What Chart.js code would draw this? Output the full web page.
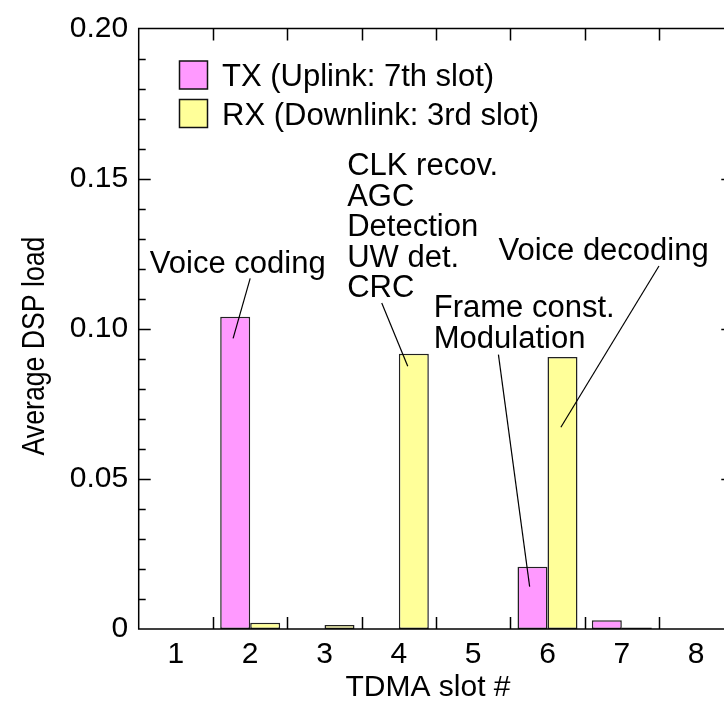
<!DOCTYPE html>
<html lang="en">
<head>
    <meta charset="UTF-8">
    <title>Average DSP load per TDMA slot</title>
    <script src="https://cdn.jsdelivr.net/npm/chart.js"></script>
    <style>
        html, body {
            margin: 0;
            padding: 0;
            background: #fff;
            overflow: hidden;
        }
        .wrap {
            width: 760px;
            height: 701px;
        }
    </style>
</head>
<body>
    <div class="wrap">
        <canvas id="dspChart" width="760" height="701"></canvas>
    </div>

    <script>
        // slot numbers on the x axis
        const slots = ['1', '2', '3', '4', '5', '6', '7', '8'];
        // average DSP load per slot
        const txLoad = [0, 0.104, 0, 0, 0, 0.0207, 0.0029, 0];
        const rxLoad = [0, 0.0021, 0.0013, 0.0917, 0, 0.0906, 0.0005, 0];
        const seriesNames = ['TX (Uplink: 7th slot)', 'RX (Downlink: 3rd slot)'];
        const yTicks = [0, 0.05, 0.10, 0.15, 0.20];

        // callouts: text lines, text anchor [slot, value], leader line [slot, value] -> [slot, value]
        const callouts = [
            { lines: ['Voice coding'], at: [-0.35, 0.1185], from: [1.0, 0.1168], to: [0.77, 0.0968] },
            { lines: ['CLK recov.', 'AGC', 'Detection', 'UW det.', 'CRC'], at: [2.305, 0.1512], from: [2.77, 0.1086], to: [3.12, 0.0875] },
            { lines: ['Frame const.', 'Modulation'], at: [3.47, 0.1039], from: [4.34, 0.0914], to: [4.76, 0.0141] },
            { lines: ['Voice decoding'], at: [4.34, 0.1228], from: [6.5, 0.1209], to: [5.18, 0.0672] }
        ];

        const FONT = '"Liberation Sans", Arial, Helvetica, sans-serif';
        const TX_COLOR = '#ff99ff';
        const RX_COLOR = '#ffff99';

        // slot -> pixel (fractional slots allowed)
        function slotX(chart, s) {
            const x = chart.scales.x;
            const w = (x.right - x.left) / slots.length;
            return x.getPixelForValue(0) + s * w;
        }

        // frame, inward ticks, legend and axis titles
        const framePlugin = {
            id: 'frame',
            afterDatasetsDraw(chart) {
                const { ctx, chartArea: a, scales } = chart;
                const y = scales.y;
                ctx.save();
                ctx.strokeStyle = '#000';
                ctx.lineWidth = 1.5;
                ctx.strokeRect(a.left, a.top, a.right - a.left, a.bottom - a.top);

                ctx.beginPath();
                for (let i = 1; i < 20; i++) {
                    const v = i / 100;
                    const py = Math.round(y.getPixelForValue(v)) + 0.5;
                    const len = i % 5 === 0 ? 12 : 7;
                    ctx.moveTo(a.left, py); ctx.lineTo(a.left + len, py);
                    ctx.moveTo(a.right, py); ctx.lineTo(a.right - len, py);
                }
                const w = (a.right - a.left) / slots.length;
                for (let i = 1; i < slots.length; i++) {
                    const px = Math.round(a.left + i * w) + 0.5;
                    ctx.moveTo(px, a.bottom); ctx.lineTo(px, a.bottom - 12);
                    ctx.moveTo(px, a.top); ctx.lineTo(px, a.top + 12);
                }
                ctx.stroke();
                ctx.restore();
            },
            afterDraw(chart) {
                const { ctx, chartArea: a } = chart;
                ctx.save();
                ctx.fillStyle = '#000';
                ctx.font = '31px ' + FONT;

                // legend
                const colors = [TX_COLOR, RX_COLOR];
                seriesNames.forEach((name, i) => {
                    const top = 61 + i * 38.5;
                    ctx.fillStyle = colors[i];
                    ctx.fillRect(179.5, top, 28, 28);
                    ctx.strokeStyle = '#111';
                    ctx.lineWidth = 1.5;
                    ctx.strokeRect(179.5, top, 28, 28);
                    ctx.fillStyle = '#000';
                    ctx.textAlign = 'left';
                    ctx.textBaseline = 'alphabetic';
                    ctx.fillText(name, 222, top + 25);
                });

                // axis titles
                ctx.textAlign = 'center';
                ctx.textBaseline = 'middle';
                ctx.font = '30px ' + FONT;
                ctx.fillText('TDMA slot #', (a.left + a.right) / 2 - 8, 688);
                ctx.translate(35, 346);
                ctx.rotate(-Math.PI / 2);
                ctx.scale(0.86, 1);
                ctx.font = '31px ' + FONT;
                ctx.fillText('Average DSP load', 0, 0);
                ctx.restore();

                // callouts
                const y = chart.scales.y;
                ctx.save();
                ctx.font = '31px ' + FONT;
                ctx.fillStyle = '#000';
                ctx.strokeStyle = '#000';
                ctx.lineWidth = 1.2;
                ctx.textAlign = 'left';
                ctx.textBaseline = 'alphabetic';
                callouts.forEach(c => {
                    const tx = slotX(chart, c.at[0]);
                    const ty = y.getPixelForValue(c.at[1]);
                    c.lines.forEach((line, i) => ctx.fillText(line, tx, ty + i * 30.5));
                    ctx.beginPath();
                    ctx.moveTo(slotX(chart, c.from[0]), y.getPixelForValue(c.from[1]));
                    ctx.lineTo(slotX(chart, c.to[0]), y.getPixelForValue(c.to[1]));
                    ctx.stroke();
                });
                ctx.restore();
            }
        };

        const ctx = document.getElementById('dspChart').getContext('2d');
        const dspChart = new Chart(ctx, {
            type: 'bar',
            data: {
                labels: slots,
                datasets: [
                    {
                        label: seriesNames[0],
                        data: txLoad,
                        backgroundColor: TX_COLOR,
                        borderColor: '#222',
                        borderWidth: 1.5,
                        borderSkipped: false
                    },
                    {
                        label: seriesNames[1],
                        data: rxLoad,
                        backgroundColor: RX_COLOR,
                        borderColor: '#222',
                        borderWidth: 1.5,
                        borderSkipped: false
                    }
                ]
            },
            options: {
                responsive: false,
                animation: false,
                devicePixelRatio: 1,
                layout: { padding: { top: 28, right: 26.7, left: 0, bottom: 0 } },
                datasets: {
                    bar: { categoryPercentage: 0.807, barPercentage: 1.0 }
                },
                plugins: {
                    legend: { display: false },
                    tooltip: { enabled: false }
                },
                scales: {
                    x: {
                        grid: { display: false, drawTicks: false },
                        border: { display: false },
                        ticks: {
                            color: '#000',
                            padding: 8,
                            font: { family: FONT, size: 30 }
                        },
                        afterFit(scale) { scale.height = 72; }
                    },
                    y: {
                        min: 0,
                        max: 0.2,
                        grid: { display: false, drawTicks: false },
                        border: { display: false },
                        afterBuildTicks(scale) {
                            scale.ticks = yTicks.map(v => ({ value: v }));
                        },
                        ticks: {
                            color: '#000',
                            padding: 10.5,
                            font: { family: FONT, size: 30 },
                            callback: v => (v === 0 ? '0' : v.toFixed(2))
                        },
                        afterFit(scale) { scale.width = 138.7; }
                    }
                }
            },
            plugins: [framePlugin]
        });
    </script>
</body>
</html>
